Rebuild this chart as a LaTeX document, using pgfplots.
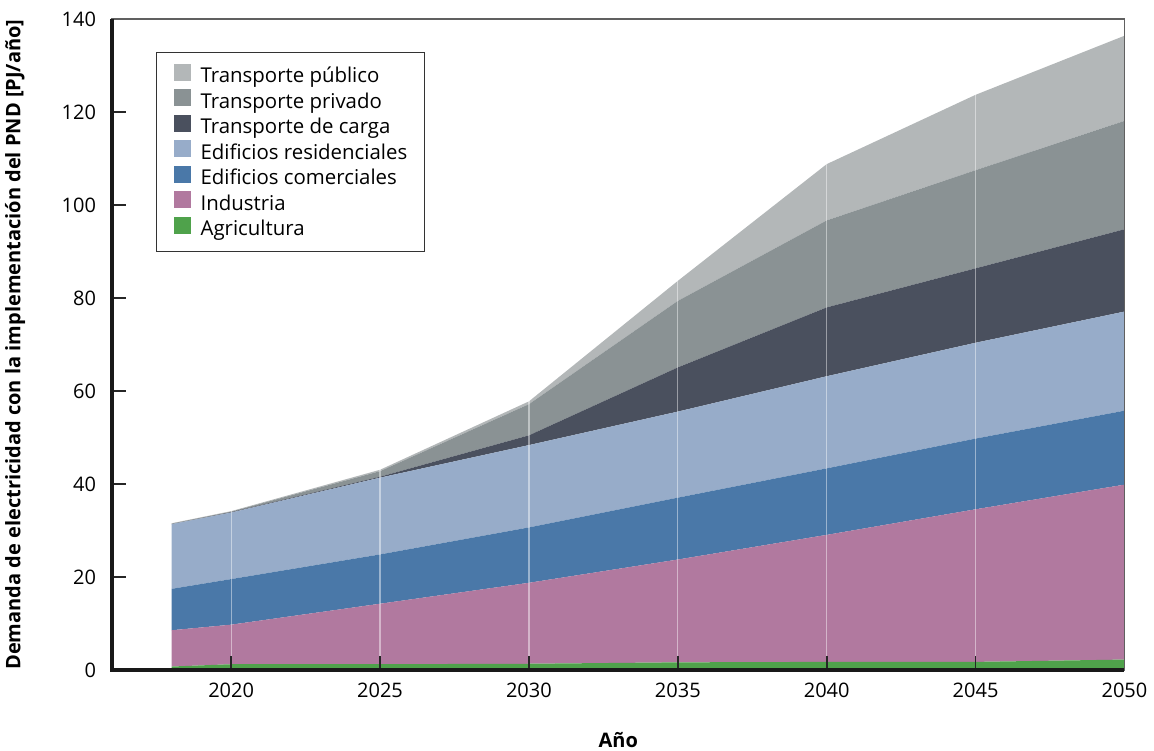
\documentclass[border=0pt]{standalone}
\usepackage{fontspec}
\setmainfont{Open Sans}
\usepackage{pgfplots}
\usepackage{pgfplotstable}
\pgfplotsset{compat=1.18}
\definecolor{cpub}{HTML}{B3B7B8}
\definecolor{cpriv}{HTML}{8A9294}
\definecolor{ccarga}{HTML}{4A505E}
\definecolor{cres}{HTML}{97ACC9}
\definecolor{ccom}{HTML}{4A78A8}
\definecolor{cind}{HTML}{B1799F}
\definecolor{cagri}{HTML}{4FA24B}
\pgfplotstableread{
year agri ind com res carga priv pub
2018 0.8 7.8 8.9 13.9 0.0 0.1 0.1
2020 1.3 8.5 9.8 14.3 0.1 0.1 0.1
2025 1.3 13.0 10.6 16.5 0.2 1.2 0.3
2030 1.4 17.4 11.9 17.7 2.1 6.7 0.6
2035 1.7 22.1 13.3 18.5 9.5 14.3 4.3
2040 1.8 27.3 14.3 19.8 14.8 18.7 12.1
2045 1.8 32.8 15.2 20.6 16.0 21.1 16.2
2050 2.3 37.6 15.9 21.3 17.7 23.3 18.3
}\data
\begin{document}
\begin{tikzpicture}
\begin{axis}[
  name=ax,
  scale only axis,
  width=506pt, height=325.5pt,
  xmin=2016, xmax=2050,
  ymin=0, ymax=140,
  xtick={2020,2025,...,2050},
  ytick={0,20,...,140},
  xtick pos=bottom, ytick pos=left,
  tick align=inside,
  major tick length=7pt,
  major tick style={black!85, line width=0.9pt},
  axis line style={draw=gray!75!black, line width=0.75pt},
  xmajorgrids,
  grid style={white, opacity=0.45, line width=0.6pt},
  axis on top,
  stack plots=y,
  /pgf/number format/assume math mode=true,
  /pgf/number format/1000 sep={},
  ticklabel style={font=\fontsize{10}{12}\selectfont},
  xticklabel style={yshift=-3pt},
  yticklabel style={xshift=-4.5pt},
  every axis x label/.style={at={(axis description cs:0.5,-0.1075)}, anchor=center, inner sep=1.5pt},
  every axis y label/.style={at={(axis description cs:-0.0958,0.5)}, anchor=center, rotate=90, inner sep=2.5pt},
  label style={font=\fontsize{10}{12}\selectfont\bfseries},
  xlabel={Año},
  ylabel={Demanda de electricidad con la implementación del PND [PJ/año]},
  reverse legend,
  legend cell align=left,
  legend image code/.code={\fill[#1,draw=none] (0pt,-1pt) rectangle (8.5pt,7.5pt); \path (13.5pt,0pt);},
  legend style={draw=black!80, line width=0.5pt, fill=white,
    at={(rel axis cs:0.0435,0.949)}, anchor=north west,
    font=\fontsize{10.2}{12}\selectfont,
    inner xsep=8.5pt, inner ysep=5.5pt, row sep=0.75pt,
    nodes={inner sep=0pt, text height=6.5pt, text depth=2.5pt}},
]
\addplot[fill=cagri, draw=none] table[x=year,y=agri]{\data} \closedcycle;
\addlegendentry{Agricultura}
\addplot[fill=cind, draw=none] table[x=year,y=ind]{\data} \closedcycle;
\addlegendentry{Industria}
\addplot[fill=ccom, draw=none] table[x=year,y=com]{\data} \closedcycle;
\addlegendentry{Edificios comerciales}
\addplot[fill=cres, draw=none] table[x=year,y=res]{\data} \closedcycle;
\addlegendentry{Edificios residenciales}
\addplot[fill=ccarga, draw=none] table[x=year,y=carga]{\data} \closedcycle;
\addlegendentry{Transporte de carga}
\addplot[fill=cpriv, draw=none] table[x=year,y=priv]{\data} \closedcycle;
\addlegendentry{Transporte privado}
\addplot[fill=cpub, draw=none] table[x=year,y=pub]{\data} \closedcycle;
\addlegendentry{Transporte público}
\end{axis}
\draw[line width=2pt, black!90] (ax.north west) -- (ax.south west) -- (ax.south east);
\path ([yshift=9.5pt]ax.north west);
\end{tikzpicture}
\end{document}
